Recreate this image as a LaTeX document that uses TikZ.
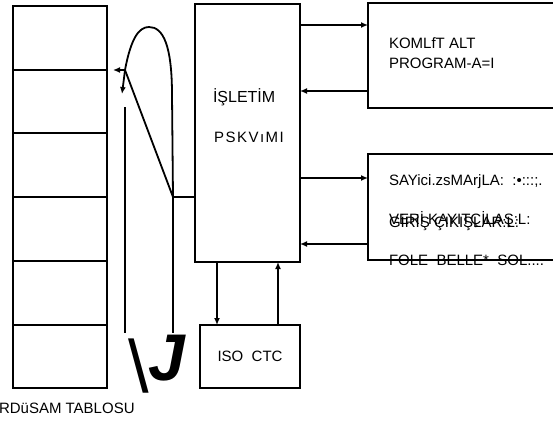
\documentclass[tikz,border=0pt]{standalone}
\usepackage{fontspec}
\setmainfont{Liberation Sans}
\newfontfamily\spacedfont[LetterSpace=10]{Liberation Sans}
\usetikzlibrary{positioning,arrows.meta}

\begin{document}
\begin{tikzpicture}[x=1pt,y=-1pt,
			>={Latex[length=7pt,width=6pt]},
			every node/.style={
				inner sep=0pt,
				outer sep=0pt,
				font=\fontsize{15}{18}\selectfont
			},
			box/.style={
				draw,
				line width=2pt,
				minimum width=#1
			},
			lbl/.style={anchor=west},
			conn/.style={line width=1.8pt}]
			
			\useasboundingbox (0,0) rectangle (553,425);
			
			% drum table
			\foreach \i in {1,...,6}
			\node(cell\i)[box=94pt,minimum height=63.7pt] at (60,{6+63.7*(\i-0.5)}){};
			
			\node(tablo)[lbl] at (-1,408){RDüSAM TABLOSU};
			
			\node(isletim)[box=105pt,minimum height=258pt] at (247.5,133){};
			
			\node(isl1)[lbl,font=\fontsize{16}{18}\selectfont] at (213,97){İŞLETİM};
			
			\node(isl2)[lbl,font=\fontsize{15}{18}\spacedfont] at (214,137){PSKVıMI};
			
			\node(komlft)[box=252pt,minimum height=105pt] at (494,55.5){};
			
			\node(kom1)[lbl] at (389,43){KOMLfT ALT};
			
			\node(kom2)[lbl] at (389,63){PROGRAM-A=I};
			
			\node(sayici)[box=252pt,minimum height=106pt] at (494,207){};
			
			\node(say1)[lbl] at (389,182){SAYici.zsMArjLA:\ \ :•:::;.};
			
			\node(say2)[lbl] at (389,223){GİRİŞ ÇIKIŞLAR:L:};
			
			\node(say3)[lbl] at (389,220){VERİ KAYITÇİLAŞ:L:};
			
			\node(say4)[lbl] at (389,260){FOLE\ \ BELLE*\ \ SOL....};
			
			\node(iso)[box=100pt,minimum height=63pt] at (250,356.5){ISO\ \ CTC};
			
			\node(bslash)[lbl,font=\fontsize{74}{74}\selectfont] at (128,366){\textbackslash};
			
			\node(jmark)[lbl,font=\fontsize{66}{66}\selectfont\bfseries\itshape] at (148,358){J};
			
			% links to the right boxes
			\coordinate(k1) at ([yshift=-21pt]isletim.north east);
			\coordinate(k2) at ([yshift=-87pt]isletim.north east);
			\coordinate(s1) at ([yshift=-174pt]isletim.north east);
			\coordinate(s2) at ([yshift=-240pt]isletim.north east);
			
			\draw[conn,->](k1)--(k1 -| komlft.west);
			
			\draw[conn,<-](k2)--(k2 -| komlft.west);
			
			\draw[conn,->](s1)--(s1 -| sayici.west);
			
			\draw[conn,<-](s2)--(s2 -| sayici.west);
			
			% links to ISO CTC
			\coordinate(d1) at ([xshift=22pt]isletim.south west);
			\coordinate(u1) at ([xshift=-22pt]isletim.south east);
			
			\draw[conn,->](d1)--(d1 |- iso.north);
			
			\draw[conn,<-](u1)--(u1 |- iso.north);
			
			% loop between table and system
			\coordinate(lp) at (125,70);
			\coordinate(lq) at (173,197);
			\coordinate(lr) at (173,333);
			\coordinate(la) at (113,70);
			\coordinate(lb) at (122,94);
			\coordinate(vt) at (125,107);
			\coordinate(vb) at (125,333);
			
			\draw[conn](lp) .. controls (131,38) and (139,27) .. (149,27) .. controls (163,27) and (172,45) .. (172,95)--(lq);
			
			\draw[conn](lp)--(lq);
			
			\draw[conn](lq)--(lq -| isletim.west);
			
			\draw[conn](lq)--(lr);
			
			\draw[conn,->](lp)--(la);
			
			\draw[conn,->](lp)--(lb);
			
			\draw[conn](vt)--(vb);
			
		\end{tikzpicture}
\end{document}
